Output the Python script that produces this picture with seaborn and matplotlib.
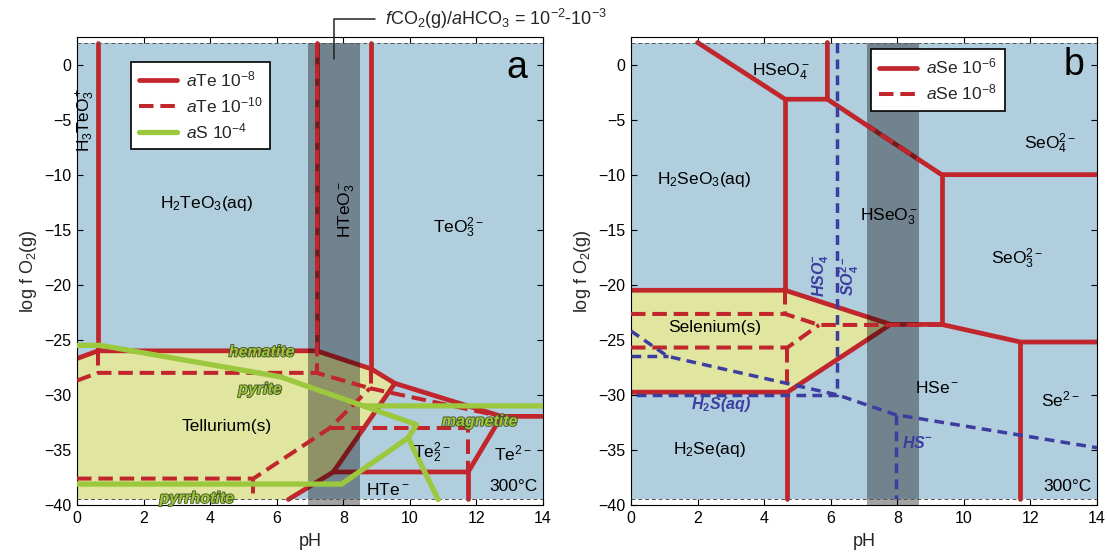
import matplotlib
matplotlib.use("Agg")
import matplotlib.pyplot as plt
import matplotlib.patheffects as pe
from matplotlib.lines import Line2D
import seaborn as sns

# ---------------- Panel a: Te-O-H (300 °C) ----------------
# aTe = 1e-8 boundaries (solid)
te8_upper_x = [0, 0.63, 7.2, 8.84, 9.55, 12.75, 14]
te8_upper_y = [-26.7, -26.0, -26.0, -27.64, -28.95, -31.95, -31.95]
te8_h3teo3_x = [0.63, 0.63]
te8_h3teo3_y = [2.0, -26.0]
te8_hteo3_x = [7.2, 7.2]
te8_hteo3_y = [2.0, -26.0]
te8_teo3_x = [8.84, 8.84]
te8_teo3_y = [2.0, -27.64]
te8_hte_x = [6.35, 7.7, 9.55]
te8_hte_y = [-39.5, -37.0, -28.95]
te8_te22_x = [7.7, 11.75, 12.75]
te8_te22_y = [-37.0, -37.0, -31.95]
te8_te2_x = [11.75, 11.75]
te8_te2_y = [-37.0, -39.5]
# Tellurium(s) field at aTe = 1e-8
te_solid_x = [0, 0.63, 7.2, 8.84, 9.55, 7.7, 6.35, 0]
te_solid_y = [-26.7, -26.0, -26.0, -27.64, -28.95, -37.0, -39.5, -39.5]

# aTe = 1e-10 boundaries (dashed)
te10_upper_x = [0, 0.63, 7.2, 8.8]
te10_upper_y = [-28.7, -28.0, -28.0, -29.4]
te10_v1_x = [0.63, 0.63]
te10_v1_y = [-26.0, -28.0]
te10_hteo3_x = [7.2, 7.2]
te10_hteo3_y = [2.0, -28.0]
te10_v2_x = [8.84, 8.84]
te10_v2_y = [-27.64, -29.4]
te10_right_x = [8.8, 12.75]
te10_right_y = [-29.4, -31.95]
te10_lower_x = [0, 5.3, 7.6, 8.8]
te10_lower_y = [-37.6, -37.6, -33.0, -29.4]
te10_v3_x = [5.3, 5.3]
te10_v3_y = [-37.6, -39.5]
te10_te22_x = [7.6, 11.75, 11.75]
te10_te22_y = [-33.0, -33.0, -37.0]

# aS = 1e-4 iron mineral boundaries
fe_upper_x = [0, 0.7, 6.1, 8.6, 14]
fe_upper_y = [-25.5, -25.5, -28.35, -31.0, -31.0]
fe_lower_x = [8.6, 10.2, 9.95, 7.95, 0]
fe_lower_y = [-31.0, -32.7, -33.9, -38.1, -38.1]
fe_po_x = [9.95, 10.85]
fe_po_y = [-33.9, -39.5]

# ---------------- Panel b: Se-O-H (300 °C) ----------------
# aSe = 1e-6 boundaries (solid)
se6_hseo4_x = [2.0, 4.63, 5.9, 5.9]
se6_hseo4_y = [2.0, -3.15, -3.15, 2.0]
se6_h2seo3_x = [4.63, 4.63]
se6_h2seo3_y = [-3.15, -20.5]
se6_hseo3_x = [5.9, 9.33, 14]
se6_hseo3_y = [-3.15, -10.0, -10.0]
se6_seo3_x = [9.33, 9.33]
se6_seo3_y = [-10.0, -23.6]
se6_top_x = [0, 4.63, 7.8, 9.33, 11.7, 14]
se6_top_y = [-20.5, -20.5, -23.6, -23.6, -25.2, -25.2]
se6_bot_x = [0, 4.7, 7.8]
se6_bot_y = [-29.75, -29.75, -23.6]
se6_h2se_x = [4.7, 4.7]
se6_h2se_y = [-29.75, -39.5]
se6_se2_x = [11.7, 11.7]
se6_se2_y = [-25.2, -39.5]
se_solid_x = [0, 4.63, 7.8, 4.7, 0]
se_solid_y = [-20.5, -20.5, -23.6, -29.75, -29.75]

# aSe = 1e-8 boundaries (dashed)
se8_top_x = [0, 4.63, 5.65, 9.33]
se8_top_y = [-22.65, -22.65, -23.65, -23.65]
se8_v1_x = [4.63, 4.63]
se8_v1_y = [-20.5, -22.65]
se8_bot_x = [0, 4.7, 5.65]
se8_bot_y = [-25.7, -25.7, -23.65]
se8_v2_x = [4.7, 4.7]
se8_v2_y = [-25.7, -29.75]
se8_diag_x = [5.9, 9.33]
se8_diag_y = [-3.15, -10.0]

# sulfur species boundaries
s_so4_x = [6.2, 6.2, 0]
s_so4_y = [2.0, -30.0, -30.0]
s_h2s_x = [0, 1.1, 6.2, 7.95, 14]
s_h2s_y = [-24.2, -26.5, -30.0, -31.8, -34.8]
s_tri_x = [0, 1.1]
s_tri_y = [-26.5, -26.5]
s_hs_x = [7.95, 7.95]
s_hs_y = [-31.8, -39.5]

# CO2/HCO3 buffer band (pH range)
band_a = [6.95, 8.5]
band_b = [7.1, 8.65]

ph_ticks = [0, 2, 4, 6, 8, 10, 12, 14]
fo2_ticks = [0, -5, -10, -15, -20, -25, -30, -35, -40]

# ---------------- style ----------------
sns.set_theme(style="ticks")
plt.rcParams["font.family"] = ["Liberation Sans", "DejaVu Sans"]
plt.rcParams["mathtext.fontset"] = "custom"
plt.rcParams["mathtext.rm"] = "Liberation Sans"
plt.rcParams["mathtext.it"] = "Liberation Sans:italic"
plt.rcParams["mathtext.bf"] = "Liberation Sans:bold"
plt.rcParams["axes.unicode_minus"] = True

BLUE_BG = "#b0cede"
YELLOW = "#e0e5a0"
RED = "#c1262c"
GREEN = "#9cc83e"
SBLUE = "#3d3da0"
RDASH = (0, (3.6, 1.7))
BDASH = (0, (2.8, 1.8))

fig = plt.figure(figsize=(11.07, 5.54), dpi=100)
ax_a = fig.add_axes([77 / 1107, 49 / 554, 466 / 1107, 468 / 554])
ax_b = fig.add_axes([631 / 1107, 49 / 554, 466 / 1107, 468 / 554])


def line(ax, xs, ys, color, lw, ls="-", z=2):
    sns.lineplot(x=xs, y=ys, ax=ax, sort=False, estimator=None, legend=False,
                 color=color, linewidth=lw, linestyle=ls, zorder=z,
                 solid_capstyle="round", dash_capstyle="butt",
                 solid_joinstyle="round")


def base(ax, band):
    ax.fill_between([0, 14], -39.5, 2.0, color=BLUE_BG, lw=0, zorder=0)
    ax.axvspan(band[0], band[1], ymin=0, ymax=42 / 42.5, color="black",
               alpha=0.36, lw=0, zorder=3)
    for yy in (2.0, -39.5):
        ax.axhline(yy, color="#555555", lw=0.7, ls=(0, (4, 3)), zorder=3.5)
    ax.set_xlim(0, 14)
    ax.set_ylim(-40, 2.5)
    ax.set_xticks(ph_ticks)
    ax.set_yticks(fo2_ticks)
    ax.tick_params(direction="in", top=True, right=True, length=4, width=0.8,
                   labelsize=11.5, colors="black", pad=4)
    for sp in ax.spines.values():
        sp.set_linewidth(0.8)
        sp.set_color("black")
    ax.set_xlabel("pH", fontsize=13, labelpad=5)
    ax.set_ylabel("log f O$_2$(g)", fontsize=13, labelpad=4)


def label(ax, x, y, s, size=12.5, **kw):
    ax.text(x, y, s, fontsize=size, ha="center", va="center", color="black",
            zorder=6, **kw)


green_fx = [pe.Stroke(linewidth=1.3, foreground="#4a5528"), pe.Normal()]


def mineral(ax, x, y, s):
    ax.text(x, y, s, fontsize=11.5, ha="center", va="center", color=GREEN,
            fontweight="bold", fontstyle="italic", path_effects=green_fx,
            zorder=6)


def slabel(ax, x, y, s, rot=0):
    ax.text(x, y, s, fontsize=11.5, ha="center", va="center", color=SBLUE,
            fontweight="bold", fontstyle="italic", rotation=rot, zorder=6)


# ---------------- draw panel a ----------------
base(ax_a, band_a)
ax_a.fill(te_solid_x, te_solid_y, color=YELLOW, lw=0, zorder=1)
for xs, ys in [(te8_upper_x, te8_upper_y), (te8_h3teo3_x, te8_h3teo3_y),
               (te8_hteo3_x, te8_hteo3_y), (te8_teo3_x, te8_teo3_y),
               (te8_hte_x, te8_hte_y), (te8_te22_x, te8_te22_y),
               (te8_te2_x, te8_te2_y)]:
    line(ax_a, xs, ys, RED, 3.4, "-", 2)
for xs, ys in [(te10_upper_x, te10_upper_y), (te10_v1_x, te10_v1_y),
               (te10_hteo3_x, te10_hteo3_y), (te10_v2_x, te10_v2_y),
               (te10_right_x, te10_right_y), (te10_lower_x, te10_lower_y),
               (te10_v3_x, te10_v3_y), (te10_te22_x, te10_te22_y)]:
    line(ax_a, xs, ys, RED, 2.9, RDASH, 4)
for xs, ys in [(fe_upper_x, fe_upper_y), (fe_lower_x, fe_lower_y),
               (fe_po_x, fe_po_y)]:
    line(ax_a, xs, ys, GREEN, 3.8, "-", 4.2)

label(ax_a, 0.27, -5.0, "H$_3$TeO$_3^+$", rotation=90)
label(ax_a, 3.9, -12.6, "H$_2$TeO$_3$(aq)")
label(ax_a, 8.1, -13.2, "HTeO$_3^-$", rotation=90)
label(ax_a, 11.45, -14.8, "TeO$_3^{2-}$")
label(ax_a, 4.5, -32.9, "Tellurium(s)")
label(ax_a, 10.65, -35.3, "Te$_2^{2-}$")
label(ax_a, 13.1, -35.3, "Te$^{2-}$")
label(ax_a, 9.35, -38.6, "HTe$^-$")
label(ax_a, 13.1, -38.3, "300°C")
label(ax_a, 13.2, -0.3, "a", size=27)
mineral(ax_a, 5.55, -26.1, "hematite")
mineral(ax_a, 5.5, -29.5, "pyrite")
mineral(ax_a, 12.1, -32.4, "magnetite")
mineral(ax_a, 3.6, -39.4, "pyrrhotite")

ax_a.plot([7.73, 7.73, 8.95], [0.5, 4.1, 4.1], color="#222222", lw=1.1,
          clip_on=False, zorder=6)
ax_a.text(9.25, 4.1, "$f$CO$_2$(g)/$a$HCO$_3$ = 10$^{-2}$-10$^{-3}$",
          fontsize=13, ha="left", va="center", clip_on=False)

leg_a = [Line2D([], [], color=RED, lw=3.4, solid_capstyle="round"),
         Line2D([], [], color=RED, lw=2.9, ls=RDASH),
         Line2D([], [], color=GREEN, lw=3.8, solid_capstyle="round")]
la = ax_a.legend(leg_a, ["$a$Te 10$^{-8}$", "$a$Te 10$^{-10}$", "$a$S 10$^{-4}$"],
                 loc="upper left", bbox_to_anchor=(0.116, 0.947), fontsize=12.5,
                 frameon=True, fancybox=False, framealpha=1, edgecolor="black",
                 handlelength=2.2, handletextpad=0.5, borderpad=0.45,
                 labelspacing=0.35, borderaxespad=0)
la.get_frame().set_linewidth(1.2)
la.set_zorder(7)

# ---------------- draw panel b ----------------
base(ax_b, band_b)
ax_b.fill(se_solid_x, se_solid_y, color=YELLOW, lw=0, zorder=1)
for xs, ys in [(se6_hseo4_x, se6_hseo4_y), (se6_h2seo3_x, se6_h2seo3_y),
               (se6_hseo3_x, se6_hseo3_y), (se6_seo3_x, se6_seo3_y),
               (se6_top_x, se6_top_y), (se6_bot_x, se6_bot_y),
               (se6_h2se_x, se6_h2se_y), (se6_se2_x, se6_se2_y)]:
    line(ax_b, xs, ys, RED, 3.4, "-", 2)
for xs, ys in [(se8_top_x, se8_top_y), (se8_v1_x, se8_v1_y),
               (se8_bot_x, se8_bot_y), (se8_v2_x, se8_v2_y),
               (se8_diag_x, se8_diag_y)]:
    line(ax_b, xs, ys, RED, 2.9, RDASH, 4)
for xs, ys in [(s_so4_x, s_so4_y), (s_h2s_x, s_h2s_y), (s_tri_x, s_tri_y),
               (s_hs_x, s_hs_y)]:
    line(ax_b, xs, ys, SBLUE, 2.5, BDASH, 4.2)

label(ax_b, 4.5, -0.7, "HSeO$_4^-$")
label(ax_b, 2.2, -10.4, "H$_2$SeO$_3$(aq)")
label(ax_b, 7.75, -13.8, "HSeO$_3^-$")
label(ax_b, 12.6, -7.2, "SeO$_4^{2-}$")
label(ax_b, 11.6, -17.6, "SeO$_3^{2-}$")
label(ax_b, 2.5, -23.9, "Selenium(s)")
label(ax_b, 2.35, -35.0, "H$_2$Se(aq)")
label(ax_b, 9.2, -29.4, "HSe$^-$")
label(ax_b, 12.9, -30.4, "Se$^{2-}$")
label(ax_b, 13.1, -38.3, "300°C")
label(ax_b, 13.3, 0.0, "b", size=27)
slabel(ax_b, 2.7, -30.9, r"H$_\mathbf{2}$S(aq)")
slabel(ax_b, 8.6, -34.4, r"HS$^\mathbf{-}$")
slabel(ax_b, 5.7, -19.2, r"HSO$_\mathbf{4}^\mathbf{-}$", rot=90)
slabel(ax_b, 6.55, -19.2, r"SO$_\mathbf{4}^\mathbf{2-}$", rot=90)

leg_b = [Line2D([], [], color=RED, lw=3.4, solid_capstyle="round"),
         Line2D([], [], color=RED, lw=2.9, ls=RDASH)]
lb = ax_b.legend(leg_b, ["$a$Se 10$^{-6}$", "$a$Se 10$^{-8}$"],
                 loc="upper left", bbox_to_anchor=(0.516, 0.974), fontsize=12.5,
                 frameon=True, fancybox=False, framealpha=1, edgecolor="black",
                 handlelength=2.2, handletextpad=0.5, borderpad=0.45,
                 labelspacing=0.35, borderaxespad=0)
lb.get_frame().set_linewidth(1.2)
lb.set_zorder(7)

fig.savefig("out.png", dpi=100)
